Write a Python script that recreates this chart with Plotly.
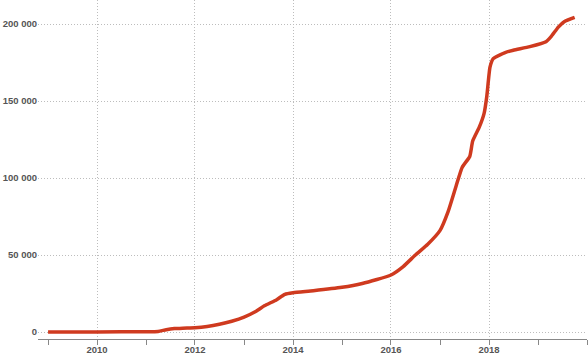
import plotly.graph_objects as go

dates = [
    "2009-01-01", "2010-01-01", "2011-01-01", "2011-04-01", "2011-06-01", "2011-08-01",
    "2011-10-01", "2012-01-01", "2012-04-01", "2012-07-01", "2012-10-01", "2013-01-01",
    "2013-04-01", "2013-06-01", "2013-09-01", "2013-11-01", "2014-01-01", "2014-06-01",
    "2015-01-01", "2015-06-01", "2016-01-01", "2016-04-01", "2016-07-01", "2016-10-01",
    "2017-01-01", "2017-03-01", "2017-05-01", "2017-06-15", "2017-08-10", "2017-09-01",
    "2017-10-20", "2017-11-25", "2017-12-15", "2018-01-08", "2018-02-01", "2018-05-01",
    "2018-07-01", "2018-11-01", "2019-03-01", "2019-04-10", "2019-06-01", "2019-07-15",
    "2019-10-01",
]
values = [
    0, 0, 200, 400, 1500, 2200,
    2500, 2800, 3600, 5000, 7000, 9700,
    13500, 17000, 21000, 24500, 25500, 26800,
    29000, 31500, 37000, 42500, 50000, 57000,
    66000, 78000, 95000, 107000, 114000, 124000,
    133000, 142000, 153000, 172000, 177500, 181500,
    183000, 185300, 188500, 192000, 198000, 201500,
    204300,
]
y_ticks = [0, 50000, 100000, 150000, 200000]

fig = go.Figure(
    go.Scatter(
        x=dates, y=values, mode="lines",
        line=dict(color="#cf3a1f", width=3.5, shape="spline", smoothing=0.5),
        hoverinfo="skip",
    )
)

font = dict(family="Liberation Sans, Arial, sans-serif", size=9.5, color="#555555", weight="bold")
grid = "#bdbdbd"

fig.update_layout(
    width=588, height=357,
    margin=dict(l=38, r=1, t=0, b=18),
    paper_bgcolor="white", plot_bgcolor="white",
    showlegend=False,
    separators=". ",
    font=font,
    xaxis=dict(
        type="date", automargin=False,
        range=["2008-10-18", "2020-01-01"],
        tick0="2010-01-01", dtick="M24", tickformat="%Y",
        ticks="outside", ticklen=5, tickcolor="#888888", tickwidth=1,
        ticklabelstandoff=-3,
        showline=True, linecolor="#888888", linewidth=1,
        showgrid=True, gridcolor=grid, griddash="1px,2px", gridwidth=1,
        minor=dict(dtick="M12", tick0="2009-01-01", ticks="outside", ticklen=5,
                   tickcolor="#888888", showgrid=False),
        zeroline=False, tickfont=font,
    ),
    yaxis=dict(
        automargin=False,
        range=[-4545, 215600],
        tickvals=y_ticks, tickformat=",",
        showgrid=True, gridcolor=grid, griddash="1px,2px", gridwidth=1,
        zeroline=False, showline=False, ticks="",
        tickfont=font,
    ),
)

fig.write_html(
    "out.html",
    config={"displayModeBar": False},
    post_script="document.body.style.margin='0';document.body.style.padding='0';",
)
